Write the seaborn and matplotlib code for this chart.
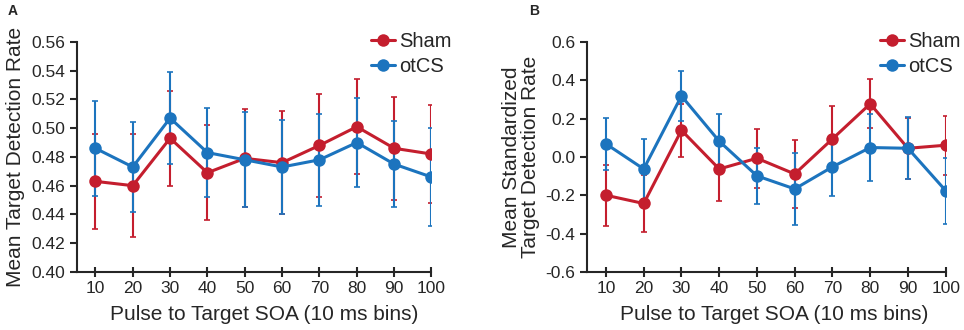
import numpy as np
import pandas as pd
import matplotlib
matplotlib.use("Agg")
import matplotlib.pyplot as plt
import seaborn as sns

# SOA bins
soa = [10, 20, 30, 40, 50, 60, 70, 80, 90, 100]

# Panel A - mean target detection rate
sham_a = [0.463, 0.460, 0.493, 0.469, 0.479, 0.476, 0.488, 0.501, 0.486, 0.482]
sham_a_err = [0.033, 0.036, 0.033, 0.033, 0.034, 0.036, 0.036, 0.033, 0.036, 0.034]
otcs_a = [0.486, 0.473, 0.507, 0.483, 0.478, 0.473, 0.478, 0.490, 0.475, 0.466]
otcs_a_err = [0.033, 0.031, 0.032, 0.031, 0.033, 0.033, 0.032, 0.031, 0.030, 0.034]

# Panel B - mean standardized target detection rate
sham_b = [-0.200, -0.243, 0.139, -0.063, -0.007, -0.089, 0.094, 0.277, 0.045, 0.061]
sham_b_err = [0.160, 0.148, 0.139, 0.168, 0.153, 0.179, 0.170, 0.127, 0.160, 0.153]
otcs_b = [0.068, -0.063, 0.318, 0.082, -0.099, -0.167, -0.052, 0.049, 0.045, -0.176]
otcs_b_err = [0.135, 0.157, 0.130, 0.142, 0.145, 0.186, 0.153, 0.176, 0.161, 0.172]

red = "#C41E2E"
blue = "#1C74BE"

sns.set_style("ticks")
plt.rcParams['font.family'] = ['Liberation Sans', 'DejaVu Sans']
plt.rcParams['axes.unicode_minus'] = False

fig = plt.figure(figsize=(9.64, 3.30), dpi=100)
ax1 = fig.add_axes([0.0796, 0.176, 0.368, 0.697])
ax2 = fig.add_axes([0.609, 0.176, 0.372, 0.697])


def draw(ax, sham, sham_err, otcs, otcs_err, leg_x, lab_x):
    df = pd.DataFrame({
        "SOA": soa * 2,
        "rate": sham + otcs,
        "group": ["Sham"] * len(soa) + ["otCS"] * len(soa),
    })
    # error bars first so lines sit on top
    ax.errorbar(soa, sham, yerr=sham_err, fmt="none", ecolor=red,
                elinewidth=1.5, capsize=2, capthick=1.2, zorder=1)
    ax.errorbar(soa, otcs, yerr=otcs_err, fmt="none", ecolor=blue,
                elinewidth=1.5, capsize=2, capthick=1.2, zorder=2)
    sns.lineplot(data=df, x="SOA", y="rate", hue="group",
                 palette={"Sham": red, "otCS": blue},
                 marker="o", markersize=9, markeredgewidth=0,
                 linewidth=2.2, ax=ax, zorder=3)
    ax.set_xlim(5, 100)
    ax.set_xticks(soa)
    ax.tick_params(axis="x", direction="inout", length=7, width=1.5,
                   labelsize=12.5, pad=3)
    ax.tick_params(axis="y", direction="out", length=5, width=1.5,
                   labelsize=12.5)
    for s in ["left", "bottom"]:
        ax.spines[s].set_linewidth(1.5)
    sns.despine(ax=ax)
    ax.set_xlabel("Pulse to Target SOA (10 ms bins)", fontsize=15)
    ax.xaxis.set_label_coords(lab_x, -0.145)
    ax.legend(loc="upper right", bbox_to_anchor=(leg_x, 1.08),
              frameon=False, fontsize=14.5, handlelength=1.2,
              handletextpad=0.2, labelspacing=0.3, borderaxespad=0)


draw(ax1, sham_a, sham_a_err, otcs_a, otcs_a_err, 1.08, 0.528)
ax1.set_ylim(0.40, 0.56)
ax1.set_yticks(np.arange(0.40, 0.561, 0.02))
ax1.yaxis.set_major_formatter(matplotlib.ticker.FormatStrFormatter("%.2f"))
ax1.set_ylabel("Mean Target Detection Rate", fontsize=15, labelpad=4)

draw(ax2, sham_b, sham_b_err, otcs_b, otcs_b_err, 1.065, 0.521)
ax2.set_ylim(-0.6, 0.6)
ax2.set_yticks(np.arange(-0.6, 0.61, 0.2))
ax2.yaxis.set_major_formatter(matplotlib.ticker.FormatStrFormatter("%.1f"))
ax2.set_ylabel("Mean Standardized\nTarget Detection Rate", fontsize=15,
               labelpad=4, linespacing=1.0)

fig.text(0.008, 0.955, "A", fontsize=10, fontweight="bold")
fig.text(0.549, 0.955, "B", fontsize=10, fontweight="bold")

fig.savefig("out.png", dpi=100)
